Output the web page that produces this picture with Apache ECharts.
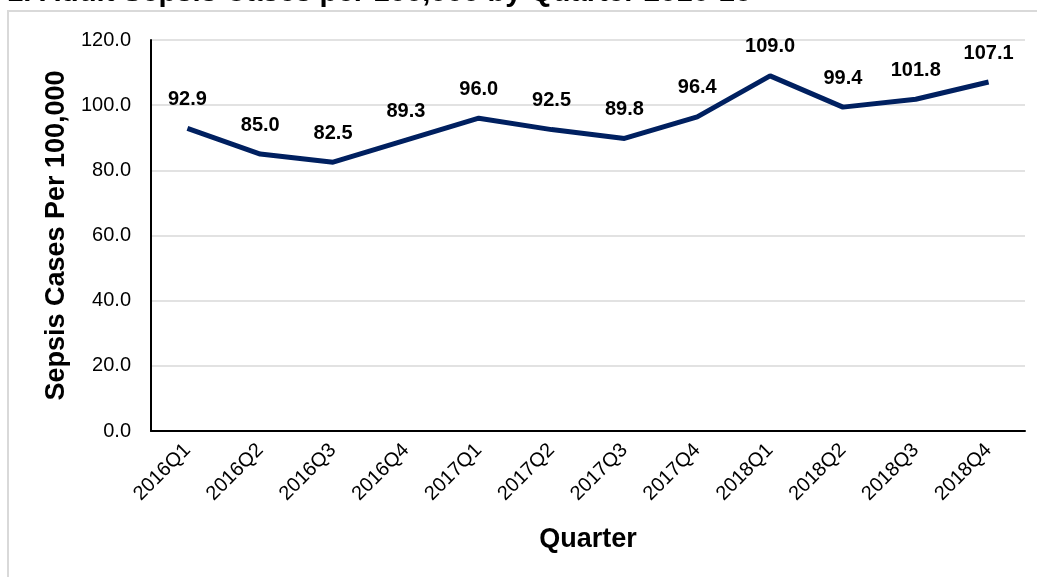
<!DOCTYPE html>
<html>
<head>
<meta charset="utf-8">
<script src="https://cdn.jsdelivr.net/npm/echarts@6/dist/echarts.min.js"></script>
<style>
  html, body { margin: 0; padding: 0; background: #fff; }
  #chart { width: 1037px; height: 577px; }
</style>
</head>
<body>
<div id="chart"></div>
<script>
// quarters and sepsis rate per 100,000
const quarters = ["2016Q1", "2016Q2", "2016Q3", "2016Q4", "2017Q1", "2017Q2",
  "2017Q3", "2017Q4", "2018Q1", "2018Q2", "2018Q3", "2018Q4"];
const sepsisRate = [92.9, 85.0, 82.5, 89.3, 96.0, 92.5, 89.8, 96.4, 109.0, 99.4, 101.8, 107.1];

const font = "Arial, 'Liberation Sans', sans-serif";

let myChart = echarts.init(document.getElementById("chart"));
let option = {
  animation: false,
  textStyle: { fontFamily: font },
  // title is cut off by the top edge in the original
  title: {
    text: "1. Adult Sepsis Cases per 100,000 by Quarter 2016-18",
    left: 7,
    top: -22,
    padding: 0,
    textStyle: { fontSize: 29.3, fontWeight: "bold", color: "#000", fontFamily: font }
  },
  graphic: [
    {
      type: "rect",
      z: -1,
      shape: { x: 8, y: 11, width: 1100, height: 700 },
      style: { fill: "none", stroke: "#d9d9d9", lineWidth: 2 }
    }
  ],
  grid: { left: 151, right: 12, top: 40, bottom: 146 },
  xAxis: {
    type: "category",
    data: quarters,
    boundaryGap: true,
    name: "Quarter",
    nameLocation: "middle",
    nameGap: 95,
    nameTextStyle: { fontSize: 27, fontWeight: "bold", color: "#000" },
    axisLine: { lineStyle: { color: "#000", width: 2 } },
    axisTick: { show: false },
    axisLabel: { rotate: 45, fontSize: 20, color: "#000", margin: 16 }
  },
  yAxis: {
    type: "value",
    min: 0,
    max: 120,
    interval: 20,
    name: "Sepsis Cases Per 100,000",
    nameLocation: "middle",
    nameGap: 80,
    nameTextStyle: { fontSize: 27, fontWeight: "bold", color: "#000" },
    axisLine: { show: true, lineStyle: { color: "#000", width: 2 } },
    axisTick: { show: false },
    splitLine: { lineStyle: { color: "#d9d9d9", width: 1.5 } },
    axisLabel: {
      fontSize: 20,
      color: "#000",
      margin: 20,
      formatter: (v) => v.toFixed(1)
    }
  },
  series: [
    {
      type: "line",
      data: sepsisRate,
      symbol: "circle",
      symbolSize: 0,
      lineStyle: { color: "#002060", width: 5 },
      itemStyle: { color: "#002060" },
      label: {
        show: true,
        position: "top",
        distance: 19,
        fontSize: 20,
        fontWeight: "bold",
        color: "#000",
        formatter: (p) => p.value.toFixed(1)
      }
    }
  ]
};
myChart.setOption(option);
</script>
</body>
</html>
